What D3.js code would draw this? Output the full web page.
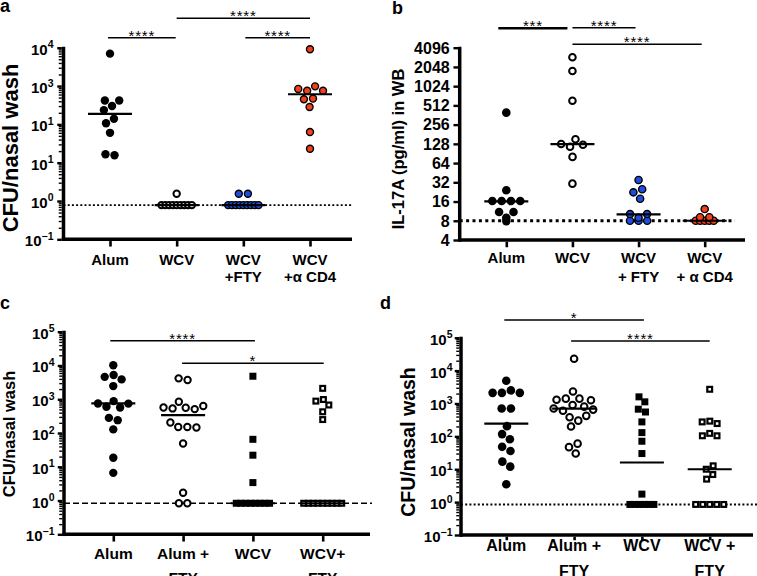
<!DOCTYPE html>
<html><head><meta charset="utf-8">
<script src="https://cdn.jsdelivr.net/npm/d3@7"></script>
<style>
body{margin:0;background:#fff}
svg{display:block;font-family:"Liberation Sans",Arial,Helvetica,sans-serif}
</style></head><body>
<svg id="chart" width="757" height="576"></svg>
<script>
// ---------------- DATA ----------------
// Panel a: CFU/nasal wash
const catsA = ["Alum", "WCV", "WCV|+FTY", "WCV|+α CD4"];
const aAlum = [7000, 420, 420, 300, 235, 140, 107, 60, 16.6, 15.6];
const aWCV  = [1.55, 0.78, 0.78, 0.78, 0.78, 0.78, 0.78, 0.78, 0.78, 0.78];
const aFTY  = [1.55, 1.55, 0.78, 0.78, 0.78, 0.78, 0.78, 0.78, 0.78, 0.78, 0.78];
const aCD4  = [9100, 980, 840, 750, 750, 470, 450, 283, 63, 23];
const medA  = [187, 0.78, 0.78, 610];
const lodA  = 0.78;
const ticksA = [0.1, 1, 10, 100, 1000, 10000];
const tickExpA = ["−1", "0", "1", "1", "3", "4"];
const sigA = [["Alum", "WCV", "****"], ["WCV", "WCV|+α CD4", "****"], ["WCV|+FTY", "WCV|+α CD4", "****"]];

// Panel b: IL-17A (pg/ml) in WB
const catsB = ["Alum", "WCV", "WCV|+ FTY", "WCV|+ α CD4"];
const bAlum = [394, 24, 16.3, 16.3, 16.3, 16.3, 11, 11, 8.9, 7.9];
const bWCV  = [2900, 1770, 605, 151, 127, 124, 115, 80, 30.5];
const bFTY  = [34.8, 24.9, 22.3, 17.7, 10.2, 10.2, 8.9, 8, 8, 8];
const bCD4  = [12.2, 9.1, 9.1, 8, 8, 8, 8, 8];
const medB  = [16.1, 127, 10.1, 8];
const lodB  = 8;
const ticksB = [4, 8, 16, 32, 64, 128, 256, 512, 1024, 2048, 4096];
const sigB = [["Alum", "WCV", "***"], ["WCV", "WCV|+ FTY", "****"], ["WCV", "WCV|+ α CD4", "****"]];

// Panel c: CFU/nasal wash
const catsC = ["Alum", "Alum +|FTY", "WCV", "WCV+|FTY"];
const cAlum    = [10200, 5200, 4600, 3870, 2450, 880, 750, 740, 600, 570, 280, 240, 128, 18.5, 6.6];
const cAlumFTY = [4150, 3700, 840, 630, 570, 560, 535, 510, 205, 150, 150, 145, 49, 1.7, 0.83, 0.83];
const cWCV     = [4800, 65, 22, 3.4, 0.83, 0.83, 0.83, 0.83, 0.83, 0.83, 0.83, 0.83];
const cWCVFTY  = [2100, 980, 880, 675, 425, 250, 0.83, 0.83, 0.83, 0.83, 0.83, 0.83, 0.83, 0.83, 0.83];
const medC  = [750, 340, 0.83, 0.83];
const lodC  = 0.83;
const ticksC = [0.1, 1, 10, 100, 1000, 10000, 100000];
const tickExpC = ["−1", "0", "1", "2", "3", "4", "5"];
const sigC = [["Alum", "WCV", "****"], ["Alum +|FTY", "WCV+|FTY", "*"]];

// Panel d: CFU/nasal wash
const catsD = ["Alum", "Alum +|FTY", "WCV", "WCV +|FTY"];
const dAlum    = [4900, 2500, 2100, 2100, 2100, 700, 700, 204, 117, 82, 48, 36, 17, 12, 3.5];
const dAlumFTY = [23000, 2300, 1400, 1400, 1300, 1250, 900, 800, 700, 650, 600, 420, 380, 300, 200, 60, 47, 30];
const dWCV     = [1590, 1120, 670, 550, 275, 130, 71, 30, 1.75, 0.85, 0.85, 0.85, 0.85, 0.85, 0.85];
const dWCVFTY  = [2700, 290, 275, 245, 123, 104, 104, 12.7, 10, 6.9, 5, 0.85, 0.85, 0.85, 0.85, 0.85];
const medD  = [245, 700, 16, 10];
const lodD  = 0.85;
const ticksD = [0.1, 1, 10, 100, 1000, 10000, 100000];
const tickExpD = ["−1", "0", "1", "2", "3", "4", "5"];
const sigD = [["Alum", "WCV", "*"], ["Alum +|FTY", "WCV +|FTY", "****"]];

// ---------------- STYLE / LAYOUT ----------------
const BLUE = "#1f4de0", RED = "#f2401c";
const markerStyles = {
  dot:    {shape: "circle", fill: "#000", stroke: "none", sw: 0},
  open:   {shape: "circle", fill: "#fff", stroke: "#000", sw: 2.0},
  blue:   {shape: "circle", fill: BLUE,  stroke: "#000", sw: 1.4},
  red:    {shape: "circle", fill: RED,   stroke: "#000", sw: 1.4},
  sq:     {shape: "square", fill: "#000", stroke: "none", sw: 0},
  opensq: {shape: "square", fill: "#fff", stroke: "#000", sw: 2.2}
};

const panels = [
  {letter: "a", letterPos: [0, 12], cats: catsA, series: [aAlum, aWCV, aFTY, aCD4],
   marks: ["dot", "open", "blue", "red"], med: medA, lod: lodA, base: 10, domain: [0.1, 1e4],
   yRange: [239.3, 47.7], xRange: [110, 310], axisX: 63.5, xEnd: 352, lodEnd: 352,
   lodW: 1.6, lodDash: "2,2.2", ticks: ticksA, exps: tickExpA, minor: true,
   tickFont: 15, supFont: 10.5, lblGap: 10, lblDy: 7, supRise: 6.5,
   title: "CFU/nasal wash", titleFont: 22, titleX: 18, titleY: 148,
   catFont: 15, catY: [265, 281.7], catTick: 5.5, sig: sigA, sigY: [37.7, 18.3, 37.7],
   sigInset: [[-2, -1], [0, 0], [2, 0]], R: 4.2, S: 7, sOverlap: 3.8},
  {letter: "b", letterPos: [392, 14], cats: catsB, series: [bAlum, bWCV, bFTY, bCD4],
   marks: ["dot", "open", "blue", "red"], med: medB, lod: lodB, base: 2, domain: [4, 4096],
   yRange: [240, 47.7], xRange: [506.3, 704.7], axisX: 459.7, xEnd: 745, lodEnd: 735,
   lodW: 3, lodDash: "3,3.4", ticks: ticksB, exps: null, minor: false,
   tickFont: 16, lblGap: 10, lblDy: 5.8,
   title: "IL-17A (pg/ml) in WB", titleFont: 16.5, titleX: 404, titleY: 149,
   catFont: 15, catY: [263.3, 281.7], catTick: 5.5, sig: sigB, sigY: [28.3, 27.7, 44.3],
   sigInset: [[-8, -5], [0, -3], [0, -3]], R: 4.3, S: 7, sOverlap: 4.5},
  {letter: "c", letterPos: [0, 309], cats: catsC, series: [cAlum, cAlumFTY, cWCV, cWCVFTY],
   marks: ["dot", "open", "sq", "opensq"], med: medC, lod: lodC, base: 10, domain: [0.1, 1e5],
   yRange: [534.3, 331.7], xRange: [113.3, 322.7], axisX: 64, xEnd: 370, lodEnd: 372,
   lodW: 1.6, lodDash: "6,3", ticks: ticksC, exps: tickExpC, minor: true,
   tickFont: 15, supFont: 10.5, lblGap: 9.5, lblDy: 7, supRise: 6.5,
   title: "CFU/nasal wash", titleFont: 16.5, titleX: 15, titleY: 434,
   catFont: 15.5, catY: [559.3, 582.5], catTick: 5.5, sig: sigC, sigY: [340.7, 363.3],
   sigInset: [[-3, 2], [-1, 1]], R: 4.2, S: 7, sOverlap: 4.75},
  {letter: "d", letterPos: [380, 309], cats: catsD, series: [dAlum, dAlumFTY, dWCV, dWCVFTY],
   marks: ["dot", "open", "sq", "opensq"], med: medD, lod: lodD, base: 10, domain: [0.1, 1e5],
   yRange: [535, 337.7], xRange: [506.3, 709.7], axisX: 461, xEnd: 753, lodEnd: 757,
   lodW: 2, lodDash: "2,2.2", ticks: ticksD, exps: tickExpD, minor: true,
   tickFont: 15, supFont: 10.5, lblGap: 8.5, lblDy: 7, supRise: 6.5,
   title: "CFU/nasal wash", titleFont: 19.5, titleX: 414.5, titleY: 442,
   catFont: 16, catY: [550.5, 577], catTick: 3.5, sig: sigD, sigY: [320, 341],
   sigInset: [[-2, 2], [-3, 0]], R: 4.3, S: 7, sOverlap: 4.8}
];

const svg = d3.select("#chart");
const AW = 3.5; // axis line width

function drawMarker(g, cx, cy, st, R, S) {
  if (st.shape === "circle") {
    g.append("circle").attr("cx", cx).attr("cy", cy).attr("r", R - st.sw / 2)
      .attr("fill", st.fill).attr("stroke", st.stroke).attr("stroke-width", st.sw);
  } else {
    const s = S - st.sw;
    g.append("rect").attr("x", cx - s / 2).attr("y", cy - s / 2).attr("width", s).attr("height", s)
      .attr("fill", st.fill).attr("stroke", st.stroke).attr("stroke-width", st.sw);
  }
}

function drawPanel(p) {
  const g = svg.append("g");
  const x = d3.scalePoint().domain(p.cats).range(p.xRange);
  const y = d3.scaleLog().base(p.base).domain(p.domain).range(p.yRange);
  const bottom = p.yRange[0], top = p.yRange[1];

  // LOD line
  g.append("line").attr("x1", p.axisX).attr("x2", p.lodEnd)
    .attr("y1", y(p.lod)).attr("y2", y(p.lod))
    .attr("stroke", "#000").attr("stroke-width", p.lodW).attr("stroke-dasharray", p.lodDash);

  // minor ticks
  if (p.minor) {
    const mv = [];
    const lo = Math.round(Math.log10(p.domain[0])), hi = Math.round(Math.log10(p.domain[1]));
    for (let e = lo; e < hi; e++) for (let k = 2; k < 10; k++) mv.push(k * Math.pow(10, e));
    const axm = g.append("g").attr("transform", `translate(${p.axisX - AW / 2},0)`)
      .call(d3.axisLeft(y).tickValues(mv).tickSizeOuter(0).tickSizeInner(3).tickFormat(""));
    axm.select(".domain").remove();
    axm.selectAll("line").attr("stroke", "#000").attr("stroke-width", 1.4);
  }
  // major ticks
  const axM = g.append("g").attr("transform", `translate(${p.axisX - AW / 2},0)`)
    .call(d3.axisLeft(y).tickValues(p.ticks).tickSizeOuter(0).tickSizeInner(4.5).tickFormat(""));
  axM.select(".domain").remove();
  axM.selectAll("line").attr("stroke", "#000").attr("stroke-width", 2.4);

  // category ticks
  const axX = g.append("g").attr("transform", `translate(0,${bottom + AW / 2})`)
    .call(d3.axisBottom(x).tickSizeOuter(0).tickSizeInner(p.catTick).tickFormat(""));
  axX.select(".domain").remove();
  axX.selectAll("line").attr("stroke", "#000").attr("stroke-width", 2.6);

  // axis lines
  g.append("line").attr("x1", p.axisX).attr("x2", p.axisX).attr("y1", top - 1).attr("y2", bottom + AW / 2)
    .attr("stroke", "#000").attr("stroke-width", AW);
  g.append("line").attr("x1", p.axisX - AW / 2).attr("x2", p.xEnd).attr("y1", bottom).attr("y2", bottom)
    .attr("stroke", "#000").attr("stroke-width", AW);

  // tick labels
  p.ticks.forEach((v, i) => {
    const t = g.append("text").attr("x", p.axisX - p.lblGap).attr("y", y(v) + p.lblDy)
      .attr("text-anchor", "end").attr("font-size", p.tickFont).attr("font-weight", "bold").attr("fill", "#000");
    if (p.exps) {
      t.append("tspan").text("10");
      t.append("tspan").attr("dy", -p.supRise).attr("font-size", p.supFont).text(p.exps[i]);
    } else {
      t.text(v);
    }
  });

  // axis title
  g.append("text").attr("transform", `translate(${p.titleX},${p.titleY}) rotate(-90)`)
    .attr("text-anchor", "middle").attr("font-size", p.titleFont).attr("font-weight", "bold")
    .text(p.title);

  // category labels
  p.cats.forEach(c => {
    c.split("|").forEach((line, li) => {
      g.append("text").attr("x", x(c)).attr("y", p.catY[li]).attr("text-anchor", "middle")
        .attr("font-size", p.catFont).attr("font-weight", "bold").text(line);
    });
  });

  // points
  p.series.forEach((vals, gi) => {
    const cx = x(p.cats[gi]);
    const st = markerStyles[p.marks[gi]];
    const dim = st.shape === "circle" ? 2 * p.R : p.S;
    const lodPts = vals.filter(v => v <= p.lod * 1.0001);
    const others = vals.filter(v => v > p.lod * 1.0001);
    // beeswarm for measured points
    const nodes = others.map((v, j) => ({v: v, fy: y(v), y: y(v), x: cx + (j % 2 ? 1 : -1) * (0.3 + 0.07 * j)}));
    const sim = d3.forceSimulation(nodes)
      .force("x", d3.forceX(cx).strength(0.07))
      .force("col", d3.forceCollide(dim / 2 + 0.35).iterations(4))
      .stop();
    for (let k = 0; k < 320; k++) sim.tick();
    // LOD row
    const n = lodPts.length;
    const s = n * dim > 38 ? p.sOverlap : dim;
    const gp = g.append("g");
    lodPts.forEach((v, k) => {
      drawMarker(gp, cx + (k - (n - 1) / 2) * s, y(v), st, p.R, p.S);
    });
    nodes.forEach(nd => drawMarker(gp, nd.x, nd.fy, st, p.R, p.S));
    // median line
    g.append("line").attr("x1", cx - 22).attr("x2", cx + 22)
      .attr("y1", y(p.med[gi])).attr("y2", y(p.med[gi]))
      .attr("stroke", "#000").attr("stroke-width", 2.2);
  });

  // significance bars
  p.sig.forEach((sg, i) => {
    const x1 = x(sg[0]) + p.sigInset[i][0], x2 = x(sg[1]) + p.sigInset[i][1];
    const yy = p.sigY[i];
    g.append("line").attr("x1", x1).attr("x2", x2).attr("y1", yy).attr("y2", yy)
      .attr("stroke", "#000").attr("stroke-width", (p.letter === "b" && i === 0) ? 2.4 : 1.6);
    g.append("text").attr("x", (x1 + x2) / 2).attr("y", yy + 3).attr("text-anchor", "middle")
      .attr("font-size", 15).attr("letter-spacing", 0.8).attr("fill", "#000").text(sg[2]);
  });

  // panel letter
  g.append("text").attr("x", p.letterPos[0]).attr("y", p.letterPos[1])
    .attr("font-size", 18).attr("font-weight", "bold").text(p.letter);
}

panels.forEach(drawPanel);
</script>
</body></html>
